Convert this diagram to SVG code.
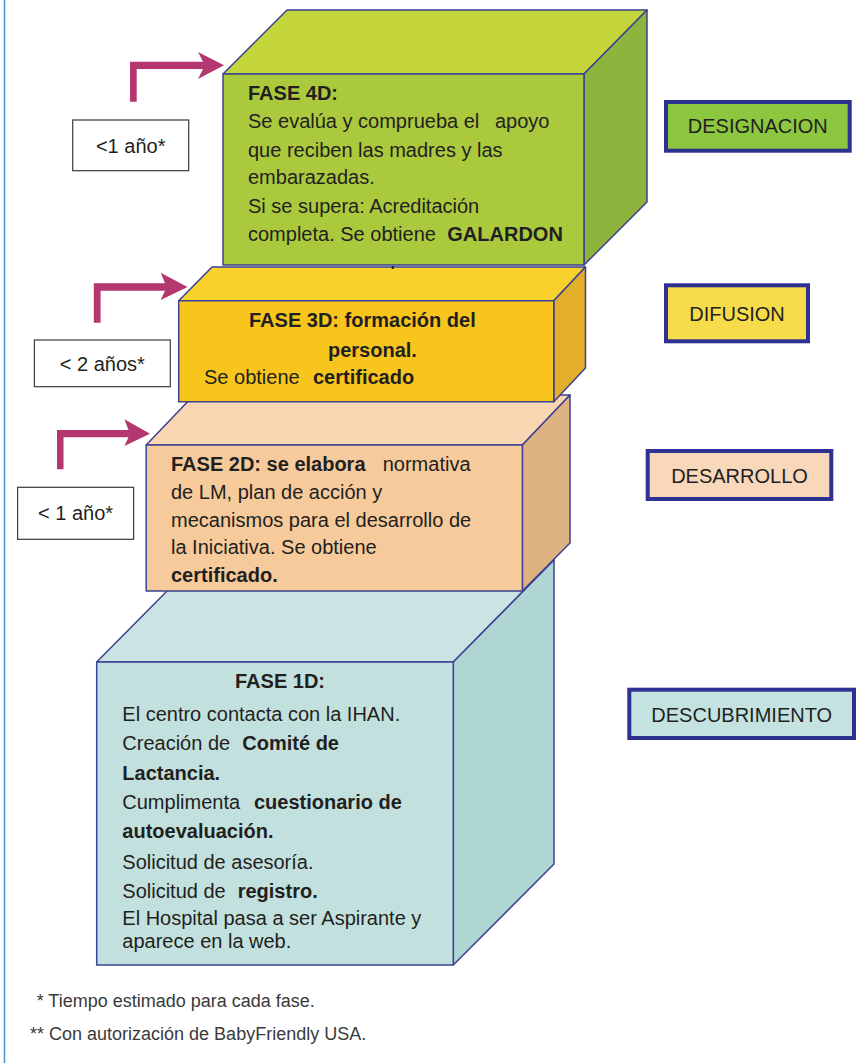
<svg xmlns="http://www.w3.org/2000/svg" width="863" height="1063" viewBox="0 0 863 1063">
<style>
text{font-family:"Liberation Sans",Arial,sans-serif;fill:#231f20}
.t{font-size:20px}
.b{font-weight:bold}
.edge{stroke:#3c4193;stroke-width:1.5;stroke-linejoin:round}
.lbl{fill:#fff;stroke:#3a3a3a;stroke-width:1.2}
.tag{stroke:#2e3192;stroke-width:4}
.arr{fill:#b5376f}
.fn{font-size:18px;fill:#3a3a3a}
</style>
<rect width="863" height="1063" fill="#fff"/>
<line x1="4.5" y1="0" x2="4.5" y2="1063" stroke="#4a90c8" stroke-width="1.5"/>

<g id="fase1d">
<polygon class="edge" points="96.7,662 197.7,560 554,560 453.3,662" fill="#c9e4e3"/>
<polygon class="edge" points="453.3,662 554,560 554,864 453.3,965" fill="#b0d6d3"/>
<rect class="edge" x="96.7" y="662" width="356.6" height="303" fill="#c2e1de"/>
<text class="t b" x="280" y="688.3" text-anchor="middle">FASE 1D:</text>
<text class="t" x="122.3" y="720.7">El centro contacta con la IHAN.</text>
<text class="t" x="122.3" y="750">Creación de<tspan class="b" x="242.3">Comité de</tspan></text>
<text class="t b" x="122.3" y="780">Lactancia.</text>
<text class="t" x="122.3" y="809">Cumplimenta<tspan class="b" x="254">cuestionario de</tspan></text>
<text class="t b" x="122.3" y="838.3">autoevaluación.</text>
<text class="t" x="122.3" y="869">Solicitud de asesoría.</text>
<text class="t" x="122.3" y="898.3">Solicitud de<tspan class="b" x="237.7">registro.</tspan></text>
<text class="t" x="122.3" y="925">El Hospital pasa a ser Aspirante y</text>
<text class="t" x="122.3" y="948.3">aparece en la web.</text>
</g>

<g id="fase2d">
<polygon class="edge" points="146.2,445 194,395 570,395 522.4,445" fill="#f8d6b1"/>
<polygon class="edge" points="522.4,445 570,395 570,543 522.4,591" fill="#dfb281"/>
<rect class="edge" x="146.2" y="445" width="376.2" height="146" fill="#f6ca9b"/>
<text class="t" x="171" y="470.7"><tspan class="b">FASE 2D: se elabora</tspan><tspan x="382.7">normativa</tspan></text>
<text class="t" x="171" y="499">de LM, plan de acción y</text>
<text class="t" x="171" y="526.7">mecanismos para el desarrollo de</text>
<text class="t" x="171" y="554">la Iniciativa. Se obtiene</text>
<text class="t b" x="171" y="581.7">certificado.</text>
</g>

<g id="fase3d">
<polygon class="edge" points="178.7,300.7 212,267 585.5,267 553.8,300.7" fill="#f9d12d"/>
<polygon class="edge" points="553.8,300.7 585.5,267 585.5,368 553.8,401.7" fill="#e3ae2b"/>
<rect class="edge" x="178.7" y="300.7" width="375.1" height="101" fill="#f8c51d"/>
<text class="t b" x="249" y="327">FASE 3D: formación del</text>
<text class="t b" x="328" y="357">personal.</text>
<text class="t" x="204" y="384">Se obtiene<tspan class="b" x="313">certificado</tspan></text>
</g>

<g id="fase4d">
<polygon class="edge" points="223,74 287,10 647,10 584,74" fill="#c3d53b"/>
<polygon class="edge" points="584,74 647,10 647,202 584,265" fill="#8db53d"/>
<rect class="edge" x="223" y="74" width="361" height="191" fill="#abc93d"/>
<text class="t b" x="248" y="100">FASE 4D:</text>
<text class="t" x="248" y="128.3">Se evalúa y comprueba el<tspan x="495">apoyo</tspan></text>
<text class="t" x="248" y="156.7">que reciben las madres y las</text>
<text class="t" x="248" y="184.3">embarazadas.</text>
<text class="t" x="248" y="212.7">Si se supera: Acreditación</text>
<text class="t" x="248" y="240.7">completa. Se obtiene<tspan class="b" x="447.3">GALARDON</tspan></text>
<rect x="391.7" y="266" width="2" height="3" fill="#222"/>
</g>

<g id="connectors">
<path class="arr" d="M130,101.7 V61.7 H203 L198,52 L224,65.3 L198,79 L203,69 H136.7 V101.7 Z"/>
<path class="arr" d="M93.8,322.7 V283.3 H165 L160.7,272.7 L187.5,287 L160.7,300 L165,290.7 H100.6 V322.7 Z"/>
<path class="arr" d="M57,469.3 V430 H128.5 L124.4,419.3 L150,433.7 L124.4,446 L128.5,437.3 H63.5 V469.3 Z"/>
</g>

<g id="time4">
<rect class="lbl" x="72.7" y="120" width="116" height="50.7"/>
<text class="t" x="130.7" y="153.3" text-anchor="middle">&lt;1 año*</text>
</g>
<g id="time3">
<rect class="lbl" x="34.4" y="340" width="135.9" height="46.7"/>
<text class="t" x="102.3" y="370.7" text-anchor="middle">&lt; 2 años*</text>
</g>
<g id="time2">
<rect class="lbl" x="17.6" y="487.3" width="116" height="52"/>
<text class="t" x="75.6" y="520" text-anchor="middle">&lt; 1 año*</text>
</g>

<g id="designacion">
<rect class="tag" x="666" y="102" width="183.7" height="48.7" fill="#8dc63f"/>
<text class="t" x="757.8" y="133.3" text-anchor="middle">DESIGNACION</text>
</g>
<g id="difusion">
<rect class="tag" x="666" y="285.3" width="142" height="56" fill="#f6dc4b"/>
<text class="t" x="737" y="320.7" text-anchor="middle">DIFUSION</text>
</g>
<g id="desarrollo">
<rect class="tag" x="647.7" y="451" width="183.6" height="48" fill="#f9d7ba"/>
<text class="t" x="739.5" y="483.3" text-anchor="middle">DESARROLLO</text>
</g>
<g id="descubrimiento">
<rect class="tag" x="629.3" y="689.7" width="224.7" height="48.3" fill="#c4e3e0"/>
<text class="t" x="741.7" y="721.7" text-anchor="middle">DESCUBRIMIENTO</text>
</g>

<g id="notes">
<text class="fn" x="36.7" y="1006.7">* Tiempo estimado para cada fase.</text>
<text class="fn" x="30" y="1040">** Con autorización de BabyFriendly USA.</text>
</g>
</svg>
